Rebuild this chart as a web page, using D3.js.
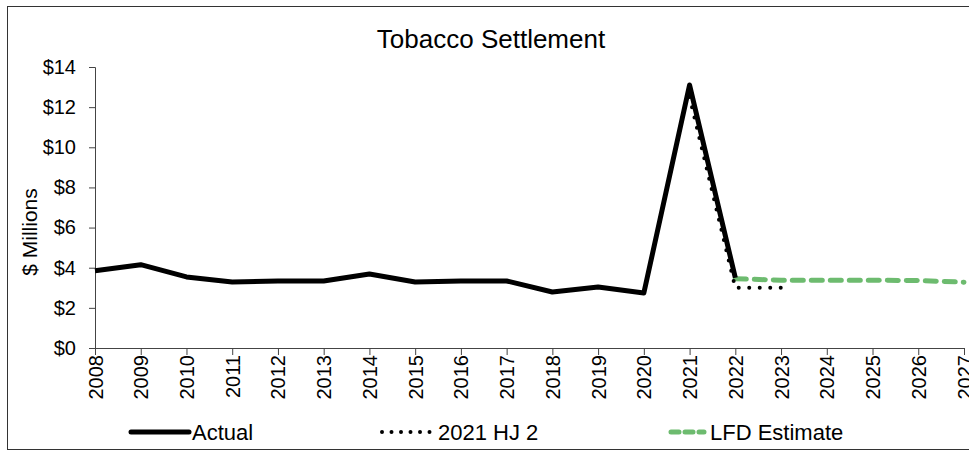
<!DOCTYPE html>
<html><head><meta charset="utf-8">
<script src="https://cdn.jsdelivr.net/npm/d3@7"></script>
<style>body{margin:0;background:#fff}svg{display:block;font-family:"Liberation Sans",Arial,sans-serif}</style>
</head><body>
<svg id="c" width="969" height="451"></svg>
<script>
const years = ["2008","2009","2010","2011","2012","2013","2014","2015","2016","2017","2018","2019","2020","2021","2022","2023","2024","2025","2026","2027"];
const actualYears = ["2008","2009","2010","2011","2012","2013","2014","2015","2016","2017","2018","2019","2020","2021","2022"];
const actualValues = [3.85,4.15,3.54,3.29,3.34,3.34,3.69,3.29,3.34,3.34,2.79,3.04,2.74,13.1,3.5];
const hjYears = ["2021","2022","2023"];
const hjValues = [12.5,3.0,3.0];
const lfdYears = ["2022","2023","2024","2025","2026","2027"];
const lfdValues = [3.45,3.38,3.38,3.38,3.36,3.28];
const yTicks = [0,2,4,6,8,10,12,14];
const title = "Tobacco Settlement";
const yLabel = "$ Millions";
const legendNames = ["Actual","2021 HJ 2","LFD Estimate"];

const svg = d3.select("#c");
const x = d3.scalePoint().domain(years).range([95,964]);
const y = d3.scaleLinear().domain([0,14]).range([348,67]);

svg.append("rect").attr("x",7.5).attr("y",6.5).attr("width",980).attr("height",443)
  .attr("fill","#fff").attr("stroke","#333").attr("stroke-width",1);

svg.append("text").attr("x",491).attr("y",48).attr("text-anchor","middle")
  .attr("font-size",26).text(title);

const yAxis = svg.append("g").attr("transform","translate(95,0)")
  .call(d3.axisLeft(y).tickValues(yTicks).tickSize(6).tickPadding(13).tickFormat(d=>"$"+d));
yAxis.select(".domain").attr("stroke","#444");
yAxis.selectAll(".tick line").attr("stroke","#444");
yAxis.selectAll("text").attr("font-size",20).attr("fill","#000").attr("font-family","Liberation Sans, Arial, sans-serif");

const xAxis = svg.append("g").attr("transform","translate(0,348)")
  .call(d3.axisBottom(x).tickSize(7).tickSizeOuter(0));
xAxis.select(".domain").attr("stroke","#444");
xAxis.selectAll(".tick line").attr("stroke","#444");
xAxis.selectAll("text").attr("font-size",20).attr("fill","#000")
  .attr("font-family","Liberation Sans, Arial, sans-serif")
  .attr("transform","rotate(-90)").attr("text-anchor","end")
  .attr("x",-7).attr("y",0).attr("dy","0.35em");

svg.append("text").attr("transform","translate(37,232) rotate(-90)")
  .attr("text-anchor","middle").attr("font-size",21).text(yLabel);

const line = d3.line().x(d=>x(d[0])).y(d=>y(d[1]));
svg.append("path").datum(d3.zip(lfdYears,lfdValues)).attr("d",line)
  .attr("fill","none").attr("stroke","#6dbb6f").attr("stroke-width",5)
  .attr("stroke-dasharray","11 8").attr("stroke-linecap","round");
svg.append("path").datum(d3.zip(actualYears,actualValues)).attr("d",line)
  .attr("fill","none").attr("stroke","#000").attr("stroke-width",5).attr("stroke-linejoin","round");
svg.append("path").datum(d3.zip(hjYears,hjValues)).attr("d",line)
  .attr("fill","none").attr("stroke","#000").attr("stroke-width",4)
  .attr("stroke-dasharray","0 10.5").attr("stroke-linecap","round");

const lg = svg.append("g");
const ly = 432;
lg.append("line").attr("x1",131).attr("x2",189).attr("y1",ly).attr("y2",ly)
  .attr("stroke","#000").attr("stroke-width",5).attr("stroke-linecap","round");
lg.append("text").attr("x",192).attr("y",ly+8).attr("font-size",22).text(legendNames[0]);
lg.append("line").attr("x1",382).attr("x2",432).attr("y1",ly).attr("y2",ly)
  .attr("stroke","#000").attr("stroke-width",4).attr("stroke-dasharray","0 9.5").attr("stroke-linecap","round");
lg.append("text").attr("x",438).attr("y",ly+8).attr("font-size",22).text(legendNames[1]);
lg.append("line").attr("x1",671).attr("x2",704).attr("y1",ly).attr("y2",ly)
  .attr("stroke","#6dbb6f").attr("stroke-width",5).attr("stroke-dasharray","8 6").attr("stroke-linecap","round");
lg.append("text").attr("x",710).attr("y",ly+8).attr("font-size",22).text(legendNames[2]);
</script>
</body></html>
